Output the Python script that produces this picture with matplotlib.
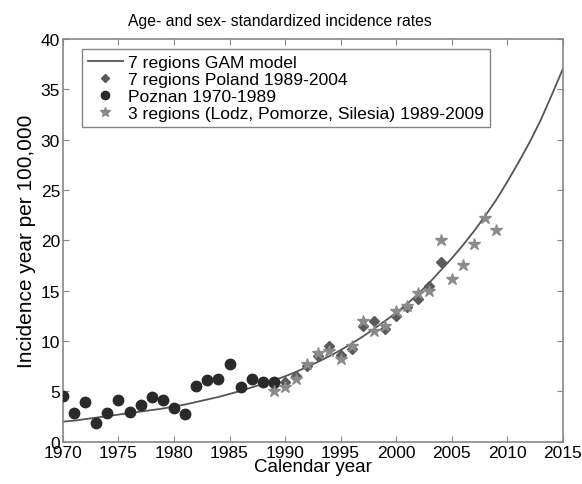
import matplotlib.pyplot as plt

plt.rcParams['font.family'] = ['Liberation Sans', 'DejaVu Sans']

# GAM model fit, yearly
gam_years = list(range(1970, 2016))
gam_rate = [2.0, 2.1, 2.25, 2.4, 2.55, 2.7, 2.85, 3.0, 3.15, 3.3,
            3.5, 3.7, 3.95, 4.2, 4.45, 4.75, 5.05, 5.4, 5.75, 6.1,
            6.5, 6.95, 7.45, 7.95, 8.5, 9.1, 9.75, 10.45, 11.2, 12.0,
            12.8, 13.7, 14.7, 15.8, 17.0, 18.2, 19.5, 20.9, 22.4, 24.0,
            25.8, 27.7, 29.7, 31.9, 34.4, 37.0]

# 7 regions Poland 1989-2004
pl_years = list(range(1989, 2005))
pl_rate = [5.6, 5.9, 6.5, 7.5, 8.5, 9.5, 8.6, 9.2,
           11.5, 12.0, 11.2, 12.5, 13.4, 14.2, 15.5, 17.8]

# Poznan 1970-1989
pz_years = list(range(1970, 1990))
pz_rate = [4.5, 2.9, 4.0, 1.9, 2.9, 4.1, 3.0, 3.7, 4.4, 4.1,
           3.4, 2.8, 5.5, 6.1, 6.2, 7.7, 5.4, 6.2, 5.9, 5.9]

# 3 regions (Lodz, Pomorze, Silesia) 1989-2009
r3_years = list(range(1989, 2010))
r3_rate = [5.0, 5.4, 6.2, 7.7, 8.8, 9.0, 8.2, 9.5, 12.0, 11.0,
           11.5, 13.0, 13.5, 14.8, 15.0, 20.0, 16.2, 17.5, 19.6, 22.2, 21.0]

fig = plt.figure(figsize=(5.82, 4.85), dpi=100)
ax = fig.add_axes([0.108, 0.087, 0.859, 0.831])

ax.plot(gam_years, gam_rate, color='#555555', lw=1.3, label='7 regions GAM model', zorder=2)
ax.plot(pl_years, pl_rate, 'D', color='#5a5a5a', ms=5, ls='none',
        label='7 regions Poland 1989-2004', zorder=3)
ax.plot(pz_years, pz_rate, 'o', color='#2a2a2a', ms=7.5, ls='none',
        label='Poznan 1970-1989', zorder=3)
ax.plot(r3_years, r3_rate, '*', color='#8a8a8a', ms=9, ls='none',
        label='3 regions (Lodz, Pomorze, Silesia) 1989-2009', zorder=4)

ax.set_xlim(1970, 2015)
ax.set_ylim(0, 40)
ax.set_xticks(range(1970, 2016, 5))
ax.set_yticks(range(0, 41, 5))
ax.tick_params(direction='in', top=True, right=True, labelsize=12.5,
               length=4, color='#888888', pad=2)
for s in ax.spines.values():
    s.set_color('#888888')
    s.set_linewidth(1.2)

ax.set_title('Age- and sex- standardized incidence rates', fontsize=11.3,
             x=0.434, pad=10)
ax.set_xlabel('Calendar year', fontsize=13.5, labelpad=-1)
ax.set_ylabel('Incidence year per 100,000', fontsize=15, labelpad=3)

leg = ax.legend(loc='upper left', bbox_to_anchor=(0.038, 0.975), fontsize=12.6,
                frameon=True, fancybox=False, edgecolor='#666666',
                handlelength=2.0, handletextpad=0.3, labelspacing=0.1,
                borderpad=0.35, borderaxespad=0, markerscale=0.8)
leg.get_frame().set_linewidth(1.0)

fig.savefig('out.png', dpi=100)
